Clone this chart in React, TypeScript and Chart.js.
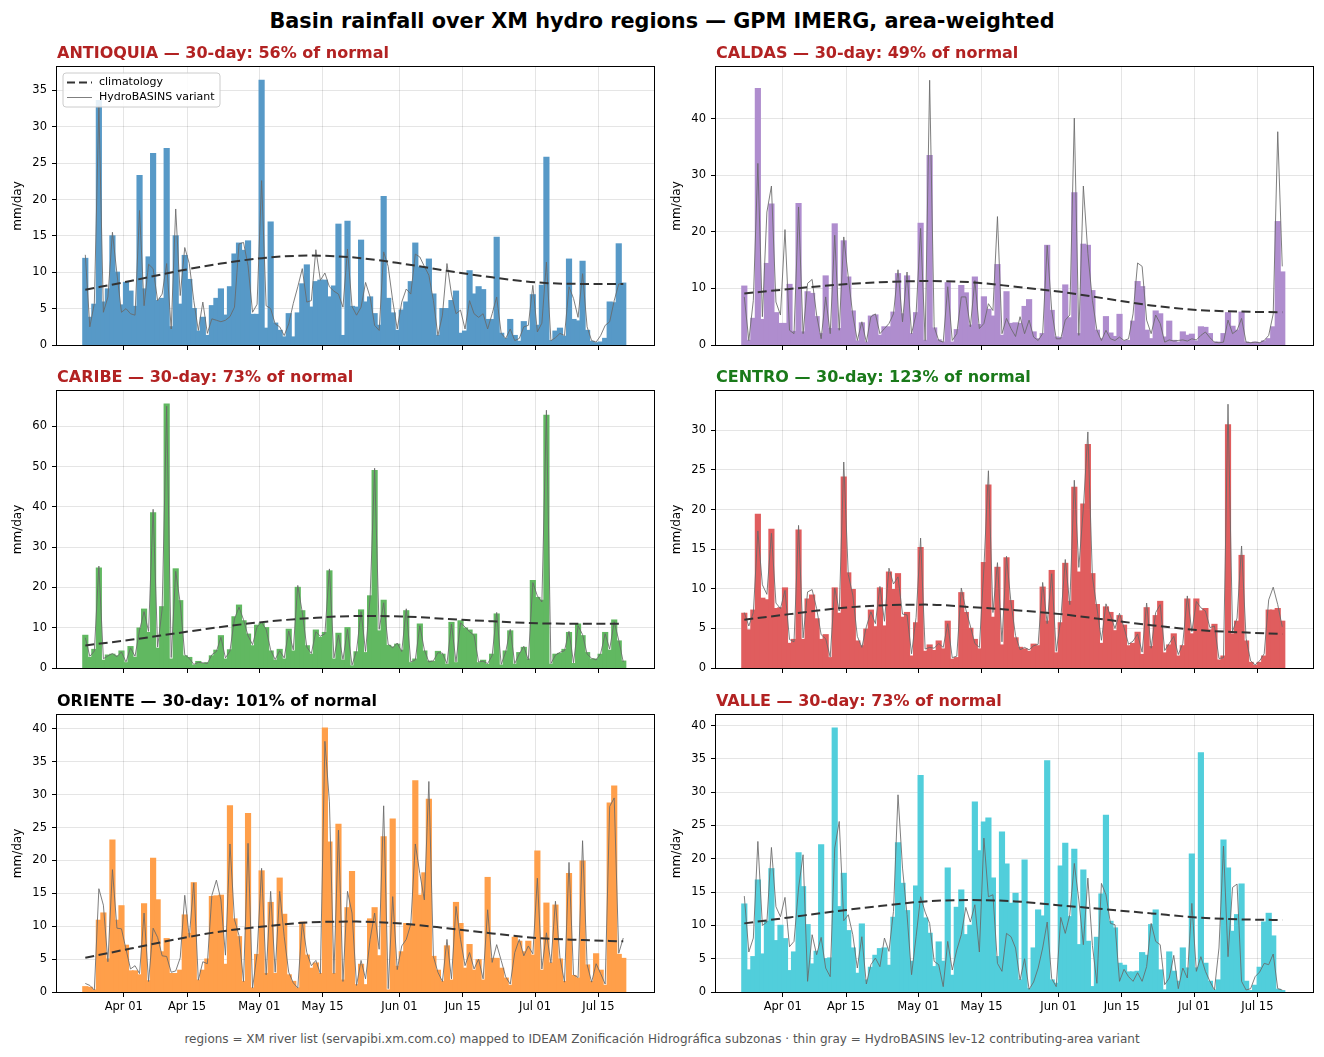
import React, { useEffect, useRef } from "react";
import { Chart, registerables } from "chart.js";

Chart.register(...registerables);
Chart.defaults.font.family = "'DejaVu Sans', sans-serif";

// ---------- axis / calendar ----------
const FIRST_DAY = -9; // first daily value = Mar 23 (day offset from Apr 01)
const TICK_DAYS = [0, 14, 30, 44, 61, 75, 91, 105];
const TICK_LABELS = ["Apr 01", "Apr 15", "May 01", "May 15", "Jun 01", "Jun 15", "Jul 01", "Jul 15"];
const CLIM_INDEX = [0, 10, 20, 30, 40, 50, 60, 70, 80, 90, 100, 110, 119];

// ---------- data (mm/day) ----------
const ANTIOQUIA_RAIN = [
  11.9, 3.8, 5.6, 33.6, 5.9, 7.7, 15.0, 10.0, 5.5, 8.6,
  7.4, 5.3, 23.3, 7.7, 12.1, 26.3, 6.1, 6.4, 27.0, 2.5,
  15.0, 5.6, 12.3, 9.0, 5.0, 1.9, 3.8, 1.3, 5.4, 6.4,
  7.7, 4.1, 8.0, 12.5, 14.0, 13.0, 14.3, 4.2, 4.2, 36.4,
  2.3, 16.9, 3.0, 2.0, 1.1, 4.3, 1.1, 4.4, 8.4, 11.0,
  5.2, 8.7, 8.9, 8.9, 6.6, 8.1, 16.6, 1.3, 17.0, 5.3,
  5.2, 14.4, 5.9, 6.6, 4.3, 2.7, 20.4, 6.4, 4.4, 2.0,
  4.8, 5.9, 8.7, 14.0, 10.7, 10.7, 11.8, 7.0, 1.3, 5.0,
  5.0, 6.1, 7.4, 1.6, 1.9, 10.2, 7.0, 8.0, 7.6, 3.5,
  3.5, 14.8, 1.6, 0.9, 3.5, 1.3, 0.5, 3.2, 2.0, 6.9,
  2.7, 8.2, 25.8, 0.6, 1.9, 2.3, 1.2, 11.8, 3.5, 3.3,
  11.5, 2.0, 0.5, 0.3, 0.4, 0.9, 5.9, 5.8, 13.9, 8.5,
];
const ANTIOQUIA_HYDRO = [
  12.4, 2.5, 5.7, 32.9, 4.5, 6.6, 15.5, 9.8, 4.5, 5.0,
  4.3, 4.1, 18.5, 5.4, 11.1, 10.5, 6.1, 7.0, 11.2, 2.2,
  18.7, 6.8, 13.4, 11.2, 6.1, 2.0, 5.9, 1.6, 3.6, 3.4,
  3.2, 3.4, 3.9, 5.2, 13.9, 14.1, 10.9, 4.5, 5.6, 22.6,
  5.4, 5.0, 2.9, 2.5, 1.3, 2.9, 5.7, 8.0, 10.5, 5.9,
  6.1, 13.1, 8.9, 9.9, 8.0, 7.4, 7.0, 5.2, 13.2, 5.3,
  4.1, 5.2, 8.6, 6.6, 2.7, 2.0, 12.8, 10.8, 6.1, 2.2,
  5.9, 7.7, 7.0, 12.5, 12.1, 10.8, 9.6, 6.1, 1.3, 4.1,
  11.2, 7.0, 4.3, 4.8, 2.2, 6.1, 4.3, 3.8, 4.3, 2.2,
  4.3, 6.6, 1.6, 0.9, 2.2, 0.6, 0.9, 2.5, 2.7, 8.2,
  1.8, 3.0, 11.4, 0.6, 1.0, 1.6, 1.3, 8.0, 6.4, 3.8,
  9.8, 2.5, 0.6, 0.4, 1.3, 2.7, 3.2, 6.1, 8.4, 8.4,
];
const ANTIOQUIA_CLIM = [7.6, 8.8, 10.1, 11.2, 12.0, 12.3, 12.0, 11.2, 10.2, 9.3, 8.6, 8.4, 8.4];

const CALDAS_RAIN = [
  10.4, 0.8, 4.7, 45.3, 4.5, 14.4, 24.9, 5.7, 3.8, 3.8,
  10.7, 2.4, 25.0, 2.3, 9.4, 9.1, 5.0, 2.0, 12.2, 2.9,
  21.4, 2.9, 18.4, 12.0, 6.0, 0.7, 3.9, 0.5, 5.1, 5.3,
  1.7, 3.2, 3.2, 5.8, 12.6, 5.5, 12.2, 2.0, 5.7, 21.5,
  0.8, 33.5, 3.0, 0.9, 0.5, 11.0, 0.5, 2.7, 10.5, 9.2,
  3.5, 12.0, 3.6, 8.5, 6.3, 5.1, 14.2, 1.7, 9.4, 3.8,
  3.9, 3.8, 6.8, 8.0, 2.3, 1.1, 2.0, 17.6, 6.1, 1.4,
  1.3, 10.6, 4.8, 26.9, 2.0, 17.8, 17.6, 9.6, 2.6, 1.1,
  5.0, 2.1, 1.5, 5.4, 0.7, 0.8, 4.2, 11.2, 10.3, 2.6,
  1.1, 6.0, 5.5, 1.4, 4.2, 0.8, 0.5, 2.3, 1.7, 1.9,
  0.7, 3.2, 3.1, 2.0, 0.5, 0.5, 2.0, 5.7, 3.3, 2.6,
  5.8, 0.5, 0.4, 0.5, 0.4, 0.7, 1.1, 3.2, 21.8, 12.9,
];
const CALDAS_HYDRO = [
  8.5, 0.8, 7.9, 32.1, 5.0, 23.5, 28.1, 7.6, 5.3, 20.4,
  2.6, 2.0, 24.4, 2.0, 10.9, 11.6, 5.3, 1.1, 8.5, 2.0,
  19.4, 2.6, 19.1, 12.0, 5.3, 0.8, 4.1, 0.5, 5.0, 5.5,
  2.0, 2.9, 3.8, 5.5, 13.3, 4.1, 12.9, 2.0, 5.5, 20.6,
  0.8, 46.8, 3.2, 0.8, 0.5, 10.3, 0.8, 2.0, 8.5, 8.5,
  3.2, 11.4, 2.9, 3.8, 7.3, 6.1, 22.7, 2.0, 4.7, 2.9,
  1.5, 5.0, 2.0, 4.4, 1.4, 0.8, 2.0, 17.6, 6.1, 1.1,
  1.1, 4.4, 5.3, 40.1, 1.7, 28.1, 16.2, 7.9, 2.6, 0.8,
  2.6, 1.1, 0.8, 1.4, 0.8, 1.1, 5.5, 14.5, 13.9, 4.4,
  2.0, 5.3, 3.8, 0.5, 0.9, 0.7, 0.8, 0.9, 0.7, 1.1,
  0.9, 1.7, 2.3, 1.3, 0.5, 0.4, 0.5, 4.4, 2.0, 2.6,
  4.7, 0.5, 0.4, 0.5, 0.4, 0.8, 1.7, 5.5, 37.7, 13.9,
];
const CALDAS_CLIM = [9.1, 9.9, 10.6, 11.1, 11.3, 11.1, 10.3, 9.4, 8.2, 7.0, 6.2, 5.9, 5.8];

const CARIBE_RAIN = [
  8.1, 2.6, 4.6, 24.8, 1.9, 3.2, 3.4, 3.0, 4.2, 1.3,
  5.3, 2.6, 9.9, 14.6, 8.8, 38.5, 4.9, 15.2, 65.5, 2.2,
  24.6, 16.7, 3.0, 2.6, 0.7, 1.6, 1.1, 1.3, 3.0, 4.4,
  8.0, 2.2, 4.5, 12.7, 15.6, 11.7, 8.4, 5.5, 10.6, 11.1,
  10.0, 4.2, 1.9, 4.6, 2.2, 9.6, 4.2, 20.0, 14.2, 5.5,
  3.4, 9.4, 7.6, 8.8, 24.1, 2.2, 8.6, 1.9, 10.0, 0.5,
  4.0, 14.4, 3.8, 17.9, 49.0, 9.2, 16.8, 5.6, 5.2, 5.9,
  4.4, 14.2, 1.3, 2.2, 10.9, 4.2, 1.7, 1.6, 4.1, 3.4,
  0.9, 11.3, 1.3, 11.7, 9.9, 9.4, 8.4, 1.3, 1.9, 0.9,
  3.4, 13.4, 0.7, 4.2, 9.2, 0.9, 3.8, 5.1, 2.2, 21.7,
  17.5, 16.8, 62.7, 0.9, 3.4, 3.6, 4.6, 8.8, 1.1, 10.9,
  8.0, 3.8, 2.2, 2.2, 3.4, 8.8, 4.4, 11.9, 6.7, 1.7,
];
const CARIBE_HYDRO = [
  7.5, 2.9, 4.2, 25.3, 2.3, 3.0, 3.6, 2.8, 4.0, 1.5,
  5.0, 2.9, 9.4, 14.0, 9.1, 39.4, 5.2, 14.6, 65.0, 2.6,
  24.0, 16.1, 3.3, 2.4, 0.9, 1.4, 1.3, 1.1, 3.3, 4.1,
  7.6, 2.5, 4.2, 12.2, 15.1, 12.0, 8.0, 5.8, 10.2, 11.4,
  9.6, 4.5, 2.1, 4.3, 2.5, 9.2, 4.5, 20.5, 13.8, 5.2,
  3.6, 9.0, 7.9, 8.5, 24.6, 2.5, 8.2, 2.1, 9.6, 0.7,
  4.3, 14.0, 4.1, 17.4, 49.6, 9.6, 16.2, 5.9, 5.0, 6.2,
  4.1, 14.7, 1.5, 2.0, 10.5, 4.5, 1.5, 1.8, 3.8, 3.7,
  1.1, 10.9, 1.5, 11.2, 10.2, 9.0, 8.1, 1.5, 1.7, 1.1,
  3.1, 13.8, 0.9, 4.0, 9.6, 1.1, 3.5, 5.4, 2.0, 21.2,
  17.9, 16.4, 64.0, 1.1, 3.2, 3.9, 4.3, 9.1, 1.3, 10.5,
  8.3, 3.5, 2.4, 2.0, 3.6, 8.5, 4.7, 11.5, 6.9, 1.5,
];
const CARIBE_CLIM = [5.6, 7.0, 8.6, 10.2, 11.5, 12.4, 12.9, 12.8, 12.2, 11.6, 11.1, 11.0, 11.0];

const CENTRO_RAIN = [
  6.9, 4.8, 7.3, 19.4, 8.8, 8.6, 17.5, 7.5, 7.6, 10.1,
  3.1, 3.6, 17.4, 3.6, 8.7, 9.2, 6.2, 3.6, 4.2, 1.3,
  10.1, 6.9, 24.1, 12.0, 9.9, 3.4, 2.8, 4.9, 7.3, 5.2,
  10.1, 5.3, 12.1, 9.9, 11.9, 6.4, 7.0, 1.5, 5.7, 15.2,
  2.1, 2.9, 2.2, 3.4, 2.4, 5.9, 1.1, 1.3, 9.5, 7.0,
  5.0, 3.6, 2.4, 13.3, 23.1, 6.4, 12.7, 2.9, 13.9, 8.5,
  3.8, 2.6, 2.4, 2.1, 3.0, 2.8, 10.2, 5.9, 12.3, 1.9,
  5.7, 13.2, 8.4, 22.8, 12.1, 20.7, 28.2, 11.9, 8.0, 3.1,
  7.7, 7.0, 4.7, 6.6, 5.4, 2.8, 3.1, 4.5, 1.7, 7.6,
  2.7, 6.6, 8.4, 1.9, 2.9, 4.3, 1.5, 2.8, 8.7, 4.3,
  8.7, 7.2, 7.5, 4.8, 5.5, 1.0, 1.5, 30.7, 4.3, 5.9,
  14.2, 3.4, 0.7, 0.3, 0.7, 1.5, 7.3, 7.3, 7.5, 5.9,
];
const CENTRO_HYDRO = [
  7.0, 5.3, 7.0, 17.3, 10.5, 9.3, 17.0, 8.2, 7.5, 9.8,
  3.6, 3.3, 18.0, 3.8, 9.6, 9.9, 7.5, 4.2, 3.7, 1.4,
  10.1, 7.2, 26.0, 11.8, 9.2, 4.0, 2.6, 5.2, 7.1, 5.6,
  10.3, 5.9, 12.6, 10.6, 11.5, 6.8, 6.7, 1.8, 6.4, 16.4,
  2.4, 2.6, 2.5, 3.1, 2.6, 5.6, 1.3, 1.5, 10.1, 7.4,
  5.3, 3.1, 2.6, 12.6, 24.9, 7.0, 13.3, 3.3, 14.1, 8.2,
  4.1, 2.3, 2.6, 2.3, 2.8, 3.0, 10.8, 5.6, 11.9, 2.1,
  6.1, 13.7, 8.0, 23.7, 12.7, 20.1, 29.8, 11.5, 7.6, 3.5,
  8.1, 6.6, 5.0, 6.9, 5.1, 3.0, 3.4, 4.3, 2.0, 8.2,
  2.5, 7.0, 8.0, 2.2, 3.1, 4.0, 1.7, 3.1, 9.1, 4.6,
  8.4, 7.6, 7.2, 5.1, 5.3, 1.2, 1.3, 33.3, 4.6, 6.3,
  15.4, 3.7, 0.9, 0.4, 0.9, 1.8, 8.6, 10.2, 8.0, 5.2,
];
const CENTRO_CLIM = [6.1, 6.8, 7.5, 7.9, 8.0, 7.7, 7.3, 6.8, 6.1, 5.4, 4.8, 4.5, 4.3];

const ORIENTE_RAIN = [
  0.8, 0.7, 0.3, 10.9, 12.0, 5.0, 23.1, 10.9, 13.1, 7.1,
  3.2, 3.2, 2.6, 13.4, 1.7, 20.3, 14.0, 6.1, 8.1, 2.8,
  2.8, 3.3, 11.7, 8.9, 16.6, 1.8, 3.3, 5.0, 14.5, 14.6,
  14.7, 4.2, 28.3, 11.1, 8.4, 1.6, 27.1, 0.6, 5.7, 18.4,
  2.8, 13.6, 2.8, 17.3, 11.8, 2.6, 1.6, 0.6, 10.6, 5.6,
  3.6, 4.4, 2.8, 40.1, 22.8, 2.8, 25.5, 1.8, 12.8, 18.3,
  1.1, 4.2, 1.1, 11.1, 12.8, 5.5, 23.6, 0.3, 26.3, 3.9,
  6.1, 10.4, 10.3, 32.1, 14.7, 18.1, 29.3, 5.4, 3.3, 1.6,
  7.0, 1.8, 13.6, 10.4, 3.6, 7.2, 3.3, 4.9, 1.8, 17.4,
  5.1, 5.1, 3.6, 2.1, 1.0, 8.3, 7.7, 6.1, 7.7, 5.6,
  21.4, 3.3, 13.5, 4.4, 13.2, 5.0, 1.6, 18.0, 2.5, 2.1,
  19.9, 4.1, 1.6, 5.8, 3.3, 1.0, 28.7, 31.3, 5.7, 5.1,
];
const ORIENTE_HYDRO = [
  1.3, 1.0, 0.3, 15.7, 13.2, 4.6, 18.6, 9.7, 9.6, 6.5,
  3.5, 4.0, 2.8, 12.0, 1.6, 9.7, 8.3, 5.5, 5.4, 3.0,
  3.2, 5.2, 14.7, 8.3, 16.6, 1.8, 4.6, 4.3, 14.7, 17.0,
  14.0, 5.6, 22.5, 11.0, 8.6, 1.6, 22.6, 0.6, 5.8, 18.8,
  2.6, 15.3, 3.0, 15.3, 8.4, 3.0, 1.4, 0.6, 10.6, 6.0,
  4.0, 4.8, 2.8, 38.1, 28.9, 2.8, 24.6, 1.6, 15.3, 12.0,
  1.0, 4.8, 2.0, 8.0, 12.0, 6.5, 28.3, 0.5, 14.5, 3.4,
  7.0, 8.0, 10.3, 22.5, 18.0, 14.0, 32.0, 5.4, 3.0, 1.6,
  8.0, 2.0, 13.0, 8.0, 4.0, 6.0, 3.5, 5.0, 2.0, 12.5,
  4.5, 7.2, 4.8, 2.3, 1.2, 6.0, 8.0, 5.5, 7.0, 5.8,
  17.3, 3.5, 9.0, 4.4, 13.8, 5.2, 1.5, 19.7, 2.6, 2.2,
  23.0, 4.2, 1.5, 4.3, 2.8, 1.2, 28.2, 29.5, 5.9, 8.2,
];
const ORIENTE_CLIM = [5.2, 6.6, 8.0, 9.2, 10.0, 10.6, 10.7, 10.4, 9.7, 8.9, 8.2, 7.9, 7.7];

const VALLE_RAIN = [
  13.2, 3.3, 5.3, 16.8, 5.7, 10.6, 18.5, 7.7, 10.0, 8.0,
  3.2, 6.0, 20.9, 15.8, 10.1, 4.2, 6.1, 22.1, 5.0, 5.1,
  39.6, 12.8, 17.8, 9.2, 6.6, 2.8, 10.2, 1.8, 3.7, 5.5,
  6.5, 6.6, 4.0, 11.2, 22.4, 16.3, 12.2, 4.6, 15.9, 32.5,
  11.1, 8.8, 3.8, 7.5, 4.6, 18.6, 2.5, 12.7, 15.3, 8.6,
  10.0, 28.5, 21.2, 25.5, 26.1, 17.1, 5.3, 24.0, 19.2, 13.3,
  14.8, 1.8, 19.8, 0.5, 6.6, 12.3, 11.4, 34.7, 1.8, 1.3,
  18.9, 22.3, 11.3, 21.4, 7.1, 18.3, 7.6, 0.8, 8.2, 14.7,
  26.5, 10.6, 9.6, 4.3, 4.0, 3.0, 3.0, 3.1, 5.9, 5.5,
  10.1, 12.3, 3.3, 0.3, 6.0, 3.1, 1.6, 6.6, 3.6, 20.7,
  3.6, 35.9, 4.3, 1.6, 0.3, 1.8, 22.8, 18.6, 9.1, 11.6,
  16.2, 1.6, 0.2, 1.0, 3.7, 10.5, 11.8, 8.4, 0.4, 0.2,
];
const VALLE_HYDRO = [
  14.4, 6.0, 8.1, 22.6, 10.0, 10.5, 21.7, 12.8, 11.3, 14.2,
  6.8, 7.6, 15.6, 20.6, 1.6, 8.6, 5.6, 8.2, 3.6, 2.3,
  21.6, 25.6, 10.7, 11.6, 8.6, 3.6, 8.3, 1.2, 4.1, 5.1,
  3.8, 8.1, 6.1, 12.1, 29.6, 18.6, 11.6, 2.6, 8.3, 14.3,
  12.0, 10.3, 4.6, 4.1, 0.8, 7.6, 3.3, 6.3, 8.6, 12.7,
  10.5, 13.1, 6.0, 23.1, 14.3, 14.6, 4.3, 3.1, 8.8, 8.3,
  6.6, 1.8, 5.0, 0.4, 1.5, 3.6, 6.6, 10.5, 2.0, 0.8,
  11.2, 8.8, 11.6, 19.3, 13.8, 7.1, 17.1, 7.0, 1.3, 16.3,
  14.6, 10.3, 10.1, 1.6, 3.4, 2.3, 1.6, 2.9, 1.6, 3.8,
  10.3, 7.6, 7.1, 1.1, 2.1, 5.5, 0.5, 3.6, 2.1, 13.3,
  3.1, 5.3, 3.1, 1.6, 0.3, 6.6, 21.9, 5.3, 15.7, 16.2,
  1.6, 0.3, 0.5, 2.3, 3.0, 4.3, 4.1, 5.7, 0.5, 0.3,
];
const VALLE_CLIM = [10.3, 11.2, 12.1, 12.9, 13.6, 13.8, 13.6, 13.0, 12.4, 11.8, 11.2, 10.9, 10.8];

// ---------- styling / layout ----------
const RED = "#b22222";
const GREEN = "#1a7a1a";
const BLACK = "#000000";
const COL_LEFT = [57, 716];
const PLOT_W = 597;
const ROW_TOP = [67, 391, 715];
const ROW_H = [278, 277, 277];
const Y_AXIS_W = 57;
const TOP_PAD = 40;
const X_AXIS_H = 30;
const RIGHT_PAD = 8;
const X_MIN = -14.76;
const X_MAX = 117.3;

type PanelCfg = {
  title: string;
  titleColor: string;
  barColor: string;
  rain: number[];
  hydro: number[];
  clim: number[];
  step: number;
  col: number;
  row: number;
  legend: boolean;
};

const PANELS: PanelCfg[] = [
  { title: "ANTIOQUIA — 30-day: 56% of normal", titleColor: RED, barColor: "#5799c7", rain: ANTIOQUIA_RAIN, hydro: ANTIOQUIA_HYDRO, clim: ANTIOQUIA_CLIM, step: 5, col: 0, row: 0, legend: true },
  { title: "CALDAS — 30-day: 49% of normal", titleColor: RED, barColor: "#af8dce", rain: CALDAS_RAIN, hydro: CALDAS_HYDRO, clim: CALDAS_CLIM, step: 10, col: 1, row: 0, legend: false },
  { title: "CARIBE — 30-day: 73% of normal", titleColor: RED, barColor: "#61b861", rain: CARIBE_RAIN, hydro: CARIBE_HYDRO, clim: CARIBE_CLIM, step: 10, col: 0, row: 1, legend: false },
  { title: "CENTRO — 30-day: 123% of normal", titleColor: GREEN, barColor: "#e05d5e", rain: CENTRO_RAIN, hydro: CENTRO_HYDRO, clim: CENTRO_CLIM, step: 5, col: 1, row: 1, legend: false },
  { title: "ORIENTE — 30-day: 101% of normal", titleColor: BLACK, barColor: "#ff9f4a", rain: ORIENTE_RAIN, hydro: ORIENTE_HYDRO, clim: ORIENTE_CLIM, step: 5, col: 0, row: 2, legend: false },
  { title: "VALLE — 30-day: 73% of normal", titleColor: RED, barColor: "#51cedb", rain: VALLE_RAIN, hydro: VALLE_HYDRO, clim: VALLE_CLIM, step: 5, col: 1, row: 2, legend: false },
];

const GRID_COLOR = "rgba(0,0,0,0.10)";
const HYDRO_COLOR = "rgba(105,105,105,0.85)";
const CLIM_COLOR = "#333333";

function Panel({ cfg }: { cfg: PanelCfg }) {
  const ref = useRef<HTMLCanvasElement | null>(null);
  const plotH = ROW_H[cfg.row];
  const width = Y_AXIS_W + PLOT_W + RIGHT_PAD;
  const height = TOP_PAD + plotH + X_AXIS_H;
  const isBottom = cfg.row === 2;

  useEffect(() => {
    if (!ref.current) return;
    const xAt = (i: number) => FIRST_DAY + i + 0.5;
    const barData = cfg.rain.map((v, i) => ({ x: xAt(i), y: v }));
    const hydroData = cfg.hydro.map((v, i) => ({ x: xAt(i), y: v }));
    const climData = cfg.clim.map((v, k) => ({ x: xAt(CLIM_INDEX[k]), y: v }));
    const yMax = Math.max(...cfg.rain, ...cfg.hydro, ...cfg.clim) * 1.05;
    const yTicks: number[] = [];
    for (let v = 0; v <= yMax + 1e-9; v += cfg.step) yTicks.push(v);

    const decor = {
      id: "decor",
      afterDraw(chart: any) {
        const { ctx, chartArea: a } = chart;
        ctx.save();
        ctx.strokeStyle = "#000";
        ctx.lineWidth = 1;
        ctx.strokeRect(a.left - 0.5, a.top - 0.5, a.right - a.left + 1, a.bottom - a.top + 1);
        ctx.fillStyle = cfg.titleColor;
        ctx.font = "bold 16px 'DejaVu Sans'";
        ctx.textAlign = "left";
        ctx.textBaseline = "alphabetic";
        ctx.fillText(cfg.title, a.left, a.top - 9);
        if (cfg.legend) {
          const lx = a.left + 6, ly = a.top + 6, lw = 157, lh = 34, r = 3;
          ctx.beginPath();
          ctx.moveTo(lx + r, ly);
          ctx.lineTo(lx + lw - r, ly);
          ctx.arcTo(lx + lw, ly, lx + lw, ly + r, r);
          ctx.lineTo(lx + lw, ly + lh - r);
          ctx.arcTo(lx + lw, ly + lh, lx + lw - r, ly + lh, r);
          ctx.lineTo(lx + r, ly + lh);
          ctx.arcTo(lx, ly + lh, lx, ly + lh - r, r);
          ctx.lineTo(lx, ly + r);
          ctx.arcTo(lx, ly, lx + r, ly, r);
          ctx.closePath();
          ctx.fillStyle = "rgba(255,255,255,0.85)";
          ctx.fill();
          ctx.strokeStyle = "#cccccc";
          ctx.stroke();
          ctx.beginPath();
          ctx.setLineDash([8, 4]);
          ctx.strokeStyle = CLIM_COLOR;
          ctx.lineWidth = 2;
          ctx.moveTo(lx + 4, ly + 9.5);
          ctx.lineTo(lx + 29, ly + 9.5);
          ctx.stroke();
          ctx.setLineDash([]);
          ctx.beginPath();
          ctx.strokeStyle = HYDRO_COLOR;
          ctx.lineWidth = 1;
          ctx.moveTo(lx + 4, ly + 24.5);
          ctx.lineTo(lx + 29, ly + 24.5);
          ctx.stroke();
          ctx.fillStyle = "#000";
          ctx.font = "11px 'DejaVu Sans'";
          ctx.textBaseline = "middle";
          ctx.fillText("climatology", lx + 36, ly + 9.5);
          ctx.fillText("HydroBASINS variant", lx + 36, ly + 24.5);
        }
        ctx.restore();
      },
    };

    const chart = new Chart(ref.current, {
      type: "bar",
      data: {
        datasets: [
          {
            type: "line",
            label: "climatology",
            data: climData,
            borderColor: CLIM_COLOR,
            borderWidth: 2,
            borderDash: [9, 4.5],
            pointRadius: 0,
            fill: false,
            cubicInterpolationMode: "monotone",
            order: 1,
          } as any,
          {
            type: "line",
            label: "HydroBASINS variant",
            data: hydroData,
            borderColor: HYDRO_COLOR,
            borderWidth: 1,
            pointRadius: 0,
            fill: false,
            tension: 0,
            borderJoinStyle: "round",
            order: 2,
          } as any,
          {
            type: "bar",
            label: "rain",
            data: barData,
            backgroundColor: cfg.barColor,
            borderWidth: 0,
            inflateAmount: 0.6,
            barPercentage: 1.1,
            categoryPercentage: 1,
            order: 3,
          } as any,
        ],
      },
      options: {
        animation: false,
        responsive: false,
        devicePixelRatio: 1,
        events: [],
        layout: { padding: { left: 0, right: RIGHT_PAD, top: TOP_PAD, bottom: 0 } },
        plugins: { legend: { display: false }, tooltip: { enabled: false }, title: { display: false } },
        scales: {
          x: {
            type: "linear",
            min: X_MIN,
            max: X_MAX,
            offset: false,
            afterBuildTicks: (s: any) => {
              s.ticks = TICK_DAYS.map((v) => ({ value: v }));
            },
            afterFit: (s: any) => {
              s.height = X_AXIS_H;
            },
            ticks: {
              display: isBottom,
              autoSkip: false,
              maxRotation: 0,
              minRotation: 0,
              padding: 3,
              color: "#000",
              font: { size: 11.5 },
              callback: (v: any) => {
                const k = TICK_DAYS.indexOf(Number(v));
                return k >= 0 ? TICK_LABELS[k] : "";
              },
            },
            grid: { color: GRID_COLOR, lineWidth: 1, offset: false, drawTicks: true, tickLength: 5, tickColor: "#000", tickWidth: 1 },
            border: { display: false },
          } as any,
          y: {
            type: "linear",
            min: 0,
            max: yMax,
            afterBuildTicks: (s: any) => {
              s.ticks = yTicks.map((v) => ({ value: v }));
            },
            afterFit: (s: any) => {
              s.width = Y_AXIS_W;
            },
            ticks: { color: "#000", padding: 5, font: { size: 11.5 }, callback: (v: any) => String(v) },
            title: { display: true, text: "mm/day", color: "#000", font: { size: 12 }, padding: { top: 10.5, bottom: 0 } },
            grid: { color: GRID_COLOR, lineWidth: 1, drawTicks: true, tickLength: 5, tickColor: "#000", tickWidth: 1 },
            border: { display: false },
          } as any,
        },
      },
      plugins: [decor],
    } as any);
    return () => chart.destroy();
  }, []);

  return (
    <canvas
      ref={ref}
      width={width}
      height={height}
      style={{ position: "absolute", left: COL_LEFT[cfg.col] - Y_AXIS_W, top: ROW_TOP[cfg.row] - TOP_PAD, width, height }}
    />
  );
}

export default function App() {
  useEffect(() => {
    document.body.style.margin = "0";
    document.body.style.overflow = "hidden";
  }, []);
  return (
    <div
      style={{
        position: "absolute",
        left: 0,
        top: 0,
        width: 1324,
        height: 1057,
        background: "#ffffff",
        fontFamily: "'DejaVu Sans', sans-serif",
        overflow: "hidden",
      }}
    >
      <div
        style={{
          position: "absolute",
          left: 0,
          top: 9,
          width: 1324,
          textAlign: "center",
          fontWeight: "bold",
          fontSize: 20.8,
          lineHeight: "24px",
          color: "#000",
          whiteSpace: "nowrap",
        }}
      >
        Basin rainfall over XM hydro regions — GPM IMERG, area-weighted
      </div>
      {PANELS.map((p) => (
        <Panel key={p.title} cfg={p} />
      ))}
      <div
        style={{
          position: "absolute",
          left: 0,
          top: 1032,
          width: 1324,
          textAlign: "center",
          fontSize: 12,
          lineHeight: "14px",
          color: "#555555",
          whiteSpace: "nowrap",
        }}
      >
        regions = XM river list (servapibi.xm.com.co) mapped to IDEAM Zonificación Hidrográfica subzonas · thin gray = HydroBASINS lev-12 contributing-area variant
      </div>
    </div>
  );
}
